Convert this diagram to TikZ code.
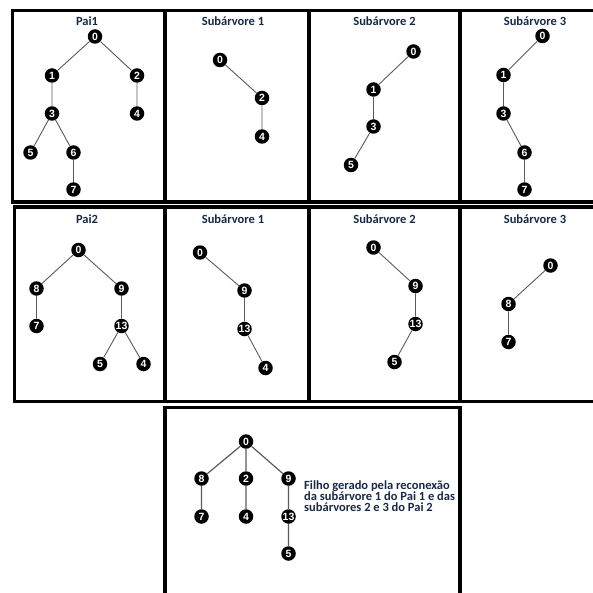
\documentclass[tikz,border=0pt]{standalone}
\usepackage{fontspec}
\setmainfont{Carlito}
\newfontfamily\numfont{Liberation Sans}
\definecolor{titlecol}{RGB}{23,40,70}
\definecolor{edgecol}{RGB}{90,90,90}
\begin{document}
\begin{tikzpicture}[x=1pt,y=-1pt,
  frame/.style={line width=3.5pt,black},
  thinframe/.style={line width=2.8pt,black},
  tn/.style={circle,fill=black,inner sep=0pt,minimum size=14.5pt,text=white,font=\numfont\bfseries\fontsize{10.5}{10.5}\selectfont},
  edge/.style={draw=edgecol,line width=0.9pt},
  ttl/.style={font=\bfseries\fontsize{12.5}{12}\selectfont,text=titlecol,inner sep=0pt}]
\useasboundingbox (0,0) rectangle (593,593);
% row 1 frame
\draw[frame] (11,10.5) -- (593,10.5);
\draw[frame] (11,202) -- (593,202);
\foreach \xx in {12.5,165,309,460} \draw[frame] (\xx,9) -- (\xx,203.5);
% row 2 frame
\draw[frame] (13,207) -- (593,207);
\draw[frame] (13,401.5) -- (593,401.5);
\draw[frame] (14.5,205.5) -- (14.5,403);
\foreach \xx in {165,309,460} \draw[frame] (\xx,205.5) -- (\xx,403);
% row 3 frame
\draw[thinframe] (163.5,407.5) -- (461.5,407.5);
\draw[frame] (165,406) -- (165,593);
\draw[frame] (460,406) -- (460,593);

% titles
\node[ttl] (t1) at (87,21) {Pai1};
\node[ttl] (t2) at (233,21) {Subárvore 1};
\node[ttl] (t3) at (384.5,21) {Subárvore 2};
\node[ttl] (t4) at (535,21) {Subárvore 3};
\node[ttl] (t5) at (87,219.5) {Pai2};
\node[ttl] (t6) at (233,219.5) {Subárvore 1};
\node[ttl] (t7) at (384.5,219.5) {Subárvore 2};
\node[ttl] (t8) at (535,219.5) {Subárvore 3};

% Pai1
\node[tn] (a0) at (95,36.5) {0};
\node[tn] (a1) at (52,75.5) {1};
\node[tn] (a2) at (137,75.5) {2};
\node[tn] (a3) at (52,113.5) {3};
\node[tn] (a4) at (137,113.5) {4};
\node[tn] (a5) at (30.5,152.5) {5};
\node[tn] (a6) at (73.5,152.5) {6};
\node[tn] (a7) at (73.5,189.5) {7};
\draw[edge] (a0)--(a1) (a0)--(a2) (a1)--(a3) (a2)--(a4) (a3)--(a5) (a3)--(a6) (a6)--(a7);

% Subarvore 1 (Pai1)
\node[tn] (b0) at (220,60) {0};
\node[tn] (b2) at (262,98) {2};
\node[tn] (b4) at (262,136.5) {4};
\draw[edge] (b0)--(b2) (b2)--(b4);

% Subarvore 2 (Pai1)
\node[tn] (c0) at (413.5,51.5) {0};
\node[tn] (c1) at (373.5,89.5) {1};
\node[tn] (c3) at (373.5,126.5) {3};
\node[tn] (c5) at (351,165) {5};
\draw[edge] (c0)--(c1) (c1)--(c3) (c3)--(c5);

% Subarvore 3 (Pai1)
\node[tn] (d0) at (542.5,36) {0};
\node[tn] (d1) at (503.5,75) {1};
\node[tn] (d3) at (503.5,113.5) {3};
\node[tn] (d6) at (524.5,152.5) {6};
\node[tn] (d7) at (524.5,189.5) {7};
\draw[edge] (d0)--(d1) (d1)--(d3) (d3)--(d6) (d6)--(d7);

% Pai2
\node[tn] (e0) at (78.5,250) {0};
\node[tn] (e8) at (36.5,288.5) {8};
\node[tn] (e9) at (121.5,288.5) {9};
\node[tn] (e7) at (36.5,326) {7};
\node[tn] (e13) at (121.5,326) {13};
\node[tn] (e5) at (100,364) {5};
\node[tn] (e4) at (143.5,364) {4};
\draw[edge] (e0)--(e8) (e0)--(e9) (e8)--(e7) (e9)--(e13) (e13)--(e5) (e13)--(e4);

% Subarvore 1 (Pai2)
\node[tn] (f0) at (200,252.5) {0};
\node[tn] (f9) at (244.5,290.5) {9};
\node[tn] (f13) at (244.5,329) {13};
\node[tn] (f4) at (265.5,368) {4};
\draw[edge] (f0)--(f9) (f9)--(f13) (f13)--(f4);

% Subarvore 2 (Pai2)
\node[tn] (g0) at (373.5,247.5) {0};
\node[tn] (g9) at (415.5,286) {9};
\node[tn] (g13) at (415.5,324) {13};
\node[tn] (g5) at (394.5,362) {5};
\draw[edge] (g0)--(g9) (g9)--(g13) (g13)--(g5);

% Subarvore 3 (Pai2)
\node[tn] (h0) at (550.5,265.5) {0};
\node[tn] (h8) at (508.5,304) {8};
\node[tn] (h7) at (508.5,342) {7};
\draw[edge] (h0)--(h8) (h8)--(h7);

% Filho
\node[tn] (k0) at (246,441.5) {0};
\node[tn] (k8) at (201.5,478.5) {8};
\node[tn] (k2) at (246,478.5) {2};
\node[tn] (k9) at (288.5,478.5) {9};
\node[tn] (k7) at (201.5,516.5) {7};
\node[tn] (k4) at (246,516.5) {4};
\node[tn] (k13) at (288.5,516.5) {13};
\node[tn] (k5) at (288.5,553.5) {5};
\draw[edge,line width=1.2pt] (k0)--(k8) (k0)--(k2) (k0)--(k9) (k8)--(k7) (k2)--(k4) (k9)--(k13) (k13)--(k5);

\node[ttl,anchor=north west,align=left,font=\bfseries\fontsize{12.5}{11}\selectfont] (txt) at (304,480.5)
  {Filho gerado pela reconexão\\da subárvore 1 do Pai 1 e das\\subárvores 2 e 3 do Pai 2};
\end{tikzpicture}
\end{document}
